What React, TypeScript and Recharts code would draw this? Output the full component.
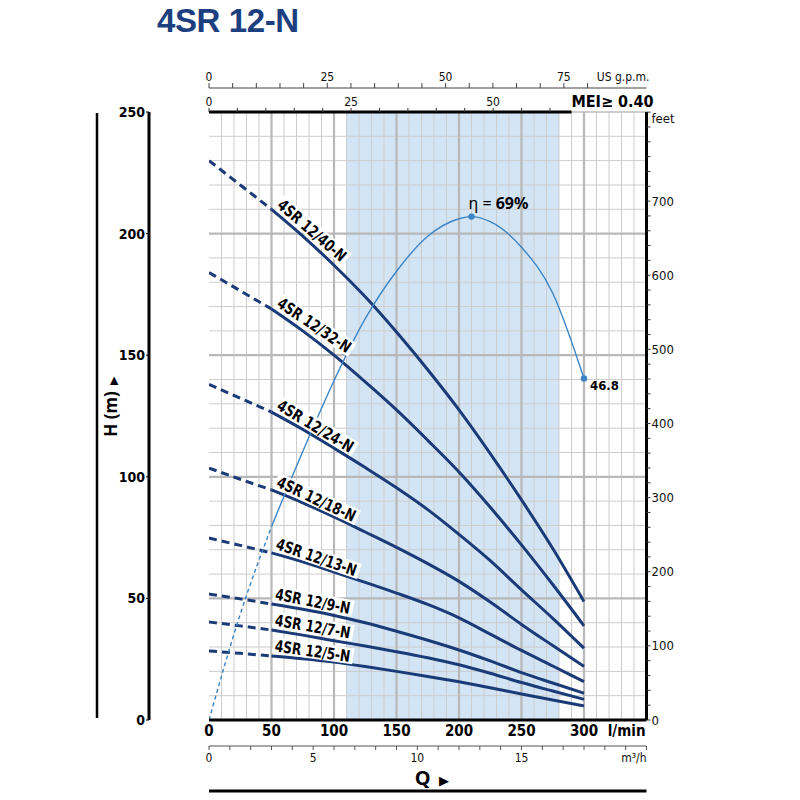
import React from 'react';
import { LineChart, Line, XAxis, YAxis, ReferenceLine, ReferenceArea, Label } from 'recharts';

const COND = "'Liberation Sans Narrow','Arial Narrow','DejaVu Sans Condensed','Roboto Condensed',Roboto,sans-serif";

// ---- data ----
const qDashed = [0, 25, 50];
const qSolid = [50, 75, 100, 125, 150, 175, 200, 225, 250, 275, 300];

const pumpNames = ['4SR 12/40-N', '4SR 12/32-N', '4SR 12/24-N', '4SR 12/18-N', '4SR 12/13-N', '4SR 12/9-N', '4SR 12/7-N', '4SR 12/5-N'];

const h40Dashed = [230, 220, 210];
const h40Solid = [210, 199, 187, 174, 159.5, 144, 127.5, 109.5, 90.5, 70.5, 48.7];
const h32Dashed = [184, 176.5, 169];
const h32Solid = [169, 160, 150, 139, 127.5, 115, 102, 87.5, 72, 55.7, 38.7];
const h24Dashed = [138, 132.3, 126.6];
const h24Solid = [126.6, 119.5, 111.8, 103.8, 95.5, 86.5, 76.3, 65.5, 53.5, 41.8, 29.5];
const h18Dashed = [103.6, 99, 94.6];
const h18Solid = [94.6, 89.3, 83.5, 77.3, 71, 64.3, 57, 48.5, 39.3, 30.6, 22];
const h13Dashed = [74.8, 71.8, 68.7];
const h13Solid = [68.7, 65, 60.8, 56.6, 52.2, 47.5, 42, 35.3, 28.6, 22.2, 15.8];
const h9Dashed = [51.8, 49.8, 47.7];
const h9Solid = [47.7, 45.5, 43, 40, 36.5, 32.8, 28.8, 24.3, 19.5, 15.2, 11];
const h7Dashed = [40.3, 38.7, 37];
const h7Solid = [37, 34.9, 32.6, 30.4, 28.1, 25.6, 22.7, 19.2, 15.4, 11.9, 8.5];
const h5Dashed = [28.4, 27.4, 26.3];
const h5Solid = [26.3, 25.2, 23.8, 22, 20, 17.9, 15.7, 13.3, 10.7, 8.2, 5.8];

const etaQDashed = [0, 25, 50];
const etaDashed = [0, 14.5, 26.5];
const etaQSolid = [50, 75, 100, 125, 150, 175, 200, 210, 225, 250, 275, 300];
const etaSolid = [26.5, 36.8, 46.5, 55, 61.5, 66.3, 68.7, 69, 68.3, 64.8, 58.5, 46.8];
const bepQ = 210;
const endQ = 300;

const efficiencyBand = [110, 280];

const qTicks = [0, 50, 100, 150, 200, 250, 300];
const hTicks = [0, 50, 100, 150, 200, 250];
const m3Ticks = [0, 1, 2, 3, 4, 5, 6, 7, 8, 9, 10, 11, 12, 13, 14, 15, 16, 17, 18, 19, 20, 21];
const m3Labels = [0, 5, 10, 15];
const usTicks = [0, 5, 10, 15, 20, 25, 30, 35, 40, 45, 50, 55, 60, 65, 70, 75, 80];
const usLabels = [0, 25, 50, 75];
const impTicks = [0, 5, 10, 15, 20, 25, 30, 35, 40, 45, 50, 55, 60];
const impLabels = [0, 25, 50];
const ftTicks = Array.from({ length: 42 }, (_, i) => i * 20);
const ftLabels = [0, 100, 200, 300, 400, 500, 600, 700];

const qMax = 350;
const hMax = 250;
const ftMax = 250 / 0.3048;
const usMax = 350 / 3.78541;
const impMax = 350 / 4.54609;
const m3Max = 21;
const etaMax = 250 / 3;
const topBorderEnd = 290;

// chart-level table of the flow ticks (lets the unit axes build their scales)
const axisData = qTicks.map((q) => ({ q }));

// ---- styles ----
const PUMP = '#1b3a78';
const ETA = '#3b84c6';
const labelAngles = [41, 34, 31, 25, 19, 11, 10, 8];
const labelLens = [85, 85, 86, 85, 84, 76, 76, 76];

const toPts = (qs: number[], vs: number[]) => qs.map((q, i) => ({ q, v: vs[i] }));

const pumps = [
  [h40Dashed, h40Solid], [h32Dashed, h32Solid], [h24Dashed, h24Solid], [h18Dashed, h18Solid],
  [h13Dashed, h13Solid], [h9Dashed, h9Solid], [h7Dashed, h7Solid], [h5Dashed, h5Solid],
];

const qMinor: number[] = [];
for (let q = 10; q < qMax; q += 10) if (q % 50 !== 0) qMinor.push(q);
const qMajor = [50, 100, 150, 200, 250, 300];
const hMinor: number[] = [];
for (let h = 10; h < hMax; h += 10) if (h % 50 !== 0) hMinor.push(h);
const hMajor = [50, 100, 150, 200];

const makeNameDot = (name: string, angle: number, len: number) => (props: any) => {
  const { cx, cy, index } = props;
  if (index !== 0 || cx == null) return <g key={`d${index}`} />;
  return (
    <g key={`name${index}`} transform={`translate(${cx},${cy}) rotate(${angle})`}>
      <rect x={0} y={-19} width={len + 5} height={16} fill="#fff" />
      <text x={2} y={-5} textLength={len} lengthAdjust="spacingAndGlyphs" fontFamily={COND} fontWeight={700} fontSize={16} fill="#000">
        {name}
      </text>
    </g>
  );
};

const etaDot = (props: any) => {
  const { cx, cy, payload, index } = props;
  if (cx == null) return <g key={`e${index}`} />;
  if (payload.q === bepQ) {
    return (
      <g key={`e${index}`}>
        <circle cx={cx} cy={cy} r={3.2} fill={ETA} />
        <text x={cx - 3} y={cy - 8} fontFamily="'Noto Sans',sans-serif" fontSize={16} fill="#000">
          <tspan>η = </tspan>
          <tspan fontWeight={700}>{`${Math.round(payload.v)}%`}</tspan>
        </text>
      </g>
    );
  }
  if (payload.q === endQ) {
    return (
      <g key={`e${index}`}>
        <circle cx={cx} cy={cy} r={3.2} fill={ETA} />
        <text x={cx + 6} y={cy + 11} fontFamily={COND} fontWeight={700} fontSize={13} fill="#000">
          {payload.v}
        </text>
      </g>
    );
  }
  return <g key={`e${index}`} />;
};

const tickFont = { fontFamily: COND, fill: '#111' };

export default function App() {
  return (
    <div style={{ position: 'absolute', left: 0, top: 0, width: 800, height: 800, background: '#fff' }}>
      <div
        style={{
          position: 'absolute', left: 157, top: 0, lineHeight: '41px', fontFamily: "'Liberation Sans',Arial,sans-serif",
          fontWeight: 700, fontSize: 33, letterSpacing: -0.4, color: '#1c3f80',
        }}
      >
        4SR 12-N
      </div>
      <LineChart width={800} height={800} data={axisData} margin={{ top: 64, right: 113.5, bottom: 7, left: 157 }}>
        <XAxis
          xAxisId="a_q" dataKey="q" type="number" domain={[0, qMax]} ticks={qTicks} interval={0}
          allowDataOverflow tickLine={false} tickSize={3} tickMargin={2} height={26}
          axisLine={{ stroke: '#000', strokeWidth: 3 }}
          tick={{ ...tickFont, fontSize: 15, fontWeight: 700, fill: '#000' }}
        >
          <Label
            content={(p: any) => {
              const vb = p.viewBox;
              return (
                <text x={vb.x + vb.width - 1} y={vb.y + 15.6} textAnchor="end" fontFamily={COND} fontWeight={700} fontSize={15} fill="#000">
                  l/min
                </text>
              );
            }}
          />
        </XAxis>
        <XAxis
          xAxisId="b_m3" dataKey="q" type="number" domain={[0, m3Max]} ticks={m3Ticks} interval={0} allowDataOverflow
          height={45} tickSize={4} tickMargin={3} axisLine={{ stroke: '#555', strokeWidth: 1 }}
          tickLine={{ stroke: '#555' }}
          tickFormatter={(v: number) => (m3Labels.includes(v) ? String(v) : '')}
          tick={{ ...tickFont, fontSize: 12 }}
        >
          <Label
            content={(p: any) => {
              const vb = p.viewBox;
              return (
                <g>
                  <text x={vb.x + vb.width} y={vb.y + 15.5} textAnchor="end" fontFamily={COND} fontSize={12} fill="#111">
                    m³/h
                  </text>
                  <text x={vb.x + vb.width / 2 + 4} y={vb.y + 39} textAnchor="middle" fontFamily="'Noto Sans',sans-serif" fill="#000">
                    <tspan fontSize={20} fontWeight={700}>Q</tspan>
                    <tspan fontSize={13} dx={8}>▶</tspan>
                  </text>
                </g>
              );
            }}
          />
        </XAxis>
        <XAxis
          xAxisId="c_line" dataKey="q" type="number" domain={[0, qMax]} allowDataOverflow height={2} tick={false} tickLine={false}
          axisLine={{ stroke: '#000', strokeWidth: 3 }}
        />
        <XAxis
          xAxisId="d_imp" dataKey="q" orientation="top" type="number" domain={[0, impMax]} ticks={impTicks} interval={0}
          allowDataOverflow height={24} tickSize={4} tickMargin={2} axisLine={false} tickLine={{ stroke: '#333' }}
          tickFormatter={(v: number) => (impLabels.includes(v) ? String(v) : '')}
          tick={{ ...tickFont, fontSize: 12 }}
        >
          <Label
            content={(p: any) => {
              const vb = p.viewBox;
              return (
                <text x={vb.x + vb.width + 7} y={vb.y + 18.5} textAnchor="end" fontFamily={COND} fontWeight={700} fontSize={16} fill="#000">
                  MEI≥ 0.40
                </text>
              );
            }}
          />
        </XAxis>
        <XAxis
          xAxisId="e_us" dataKey="q" orientation="top" type="number" domain={[0, usMax]} ticks={usTicks} interval={0}
          allowDataOverflow height={24} tickSize={5} tickMargin={2} axisLine={{ stroke: '#444', strokeWidth: 1 }}
          tickLine={{ stroke: '#444' }}
          tickFormatter={(v: number) => (usLabels.includes(v) ? String(v) : '')}
          tick={{ ...tickFont, fontSize: 12 }}
        >
          <Label
            content={(p: any) => {
              const vb = p.viewBox;
              return (
                <text x={vb.x + vb.width + 3} y={vb.y + 17} textAnchor="end" fontFamily={COND} fontSize={12} fill="#111">
                  US g.p.m.
                </text>
              );
            }}
          />
        </XAxis>
        <YAxis
          yAxisId="h" type="number" domain={[0, hMax]} ticks={hTicks} interval={0} allowDataOverflow width={52}
          tickSize={3} tickMargin={1} axisLine={{ stroke: '#000', strokeWidth: 3 }} tickLine={{ stroke: '#000' }}
          tick={{ ...tickFont, fontSize: 14, fontWeight: 700, fill: '#000' }}
        >
          <Label
            content={(p: any) => {
              const vb = p.viewBox;
              const cx = vb.x + 14;
              const cy = vb.y + vb.height / 2 - 9;
              return (
                <g>
                  <line x1={vb.x} x2={vb.x} y1={vb.y + 1} y2={vb.y + vb.height - 2} stroke="#000" strokeWidth={2.5} />
                  <text x={cx} y={cy} dy="0.36em" transform={`rotate(-90, ${cx}, ${cy})`} textAnchor="middle" fontFamily="'Noto Sans',sans-serif" fill="#000">
                    <tspan fontSize={17} fontWeight={700}>H (m)</tspan>
                    <tspan fontSize={11} dx={6}>▶</tspan>
                  </text>
                </g>
              );
            }}
          />
        </YAxis>
        <YAxis
          yAxisId="ft" orientation="right" type="number" domain={[0, ftMax]} ticks={ftTicks} interval={0}
          allowDataOverflow width={40} tickSize={4} tickMargin={1}
          axisLine={{ stroke: '#000', strokeWidth: 3 }} tickLine={{ stroke: '#333' }}
          tickFormatter={(v: number) => (ftLabels.includes(v) ? String(v) : '')}
          tick={{ ...tickFont, fontSize: 13 }}
        >
          <Label
            content={(p: any) => {
              const vb = p.viewBox;
              return (
                <text x={vb.x + 5} y={vb.y + 10.5} fontFamily={COND} fontSize={13} fill="#111">
                  feet
                </text>
              );
            }}
          />
        </YAxis>
        <YAxis yAxisId="eta" hide type="number" domain={[0, etaMax]} allowDataOverflow />

        <ReferenceArea
          xAxisId="a_q" yAxisId="h" x1={efficiencyBand[0]} x2={efficiencyBand[1]} y1={0} y2={hMax}
          fill="#b5d4ee" fillOpacity={0.6} stroke="none" ifOverflow="visible"
        />
        {qMinor.map((q) => (
          <ReferenceLine key={`qm${q}`} xAxisId="a_q" yAxisId="h" x={q} stroke="#cdcdcd" strokeWidth={1} />
        ))}
        {hMinor.map((h) => (
          <ReferenceLine key={`hm${h}`} xAxisId="a_q" yAxisId="h" y={h} stroke="#cdcdcd" strokeWidth={1} />
        ))}
        <ReferenceLine xAxisId="a_q" yAxisId="h" y={hMax} stroke="#bdbdbd" strokeWidth={1.5} />
        {qMajor.map((q) => (
          <ReferenceLine key={`qM${q}`} xAxisId="a_q" yAxisId="h" x={q} stroke="#b8b8b8" strokeWidth={2.2} />
        ))}
        {hMajor.map((h) => (
          <ReferenceLine key={`hM${h}`} xAxisId="a_q" yAxisId="h" y={h} stroke="#b8b8b8" strokeWidth={2.2} />
        ))}
        <ReferenceLine
          xAxisId="a_q" yAxisId="h" segment={[{ x: 0, y: hMax }, { x: topBorderEnd, y: hMax }]}
          stroke="#000" strokeWidth={3} ifOverflow="visible"
        />

        {pumps.map(([dashed, solid], i) => (
          <Line
            key={`pd${i}`} data={toPts(qDashed, dashed)} dataKey="v" xAxisId="a_q" yAxisId="h" type="monotone"
            stroke={PUMP} strokeWidth={3} strokeDasharray="8 5" dot={false} activeDot={false} isAnimationActive={false}
          />
        ))}
        {pumps.map(([dashed, solid], i) => (
          <Line
            key={`ps${i}`} data={toPts(qSolid, solid)} dataKey="v" xAxisId="a_q" yAxisId="h" type="monotone"
            stroke={PUMP} strokeWidth={3} dot={makeNameDot(pumpNames[i], labelAngles[i], labelLens[i])}
            activeDot={false} isAnimationActive={false}
          />
        ))}
        <Line
          data={toPts(etaQDashed, etaDashed)} dataKey="v" xAxisId="a_q" yAxisId="eta" type="monotone"
          stroke={ETA} strokeWidth={1.4} strokeDasharray="4 3" dot={false} activeDot={false} isAnimationActive={false}
        />
        <Line
          data={toPts(etaQSolid, etaSolid)} dataKey="v" xAxisId="a_q" yAxisId="eta" type="monotone"
          stroke={ETA} strokeWidth={1.4} dot={etaDot} activeDot={false} isAnimationActive={false}
        />
      </LineChart>
    </div>
  );
}
